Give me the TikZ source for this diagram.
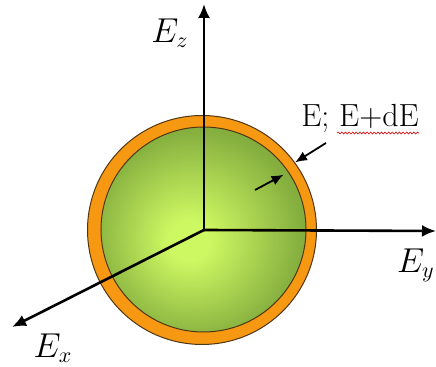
\documentclass[tikz,border=0pt]{standalone}
\usepackage{amsmath}
\usepackage{tikz}
\usetikzlibrary{positioning, arrows.meta, decorations.pathmorphing}
\definecolor{shellorange}{RGB}{247,152,18}
\definecolor{corelight}{RGB}{206,248,98}
\definecolor{coremid}{RGB}{132,174,62}
\definecolor{coredark}{RGB}{96,132,46}
\definecolor{rimbrown}{RGB}{80,55,20}
\pgfdeclareradialshading{coreglow}{\pgfpoint{-4bp}{-3bp}}{color(0bp)=(corelight); color(5bp)=(corelight); color(26bp)=(coremid); color(50bp)=(coredark)}

\begin{document}
\begin{tikzpicture}[x=0.5pt, y=-0.5pt,
    axis/.style={line width=1.3pt, -{Latex[length=7pt, width=6pt]}},
    pointer/.style={line width=0.9pt, -{Latex[length=6pt, width=5pt]}},
    lbl/.style={font=\fontsize{16}{18}\selectfont, inner sep=0pt},
    wavy/.style={red!85!black, line width=0.3pt, decorate,
        decoration={snake, amplitude=0.5pt, segment length=1.8pt}}]
    \useasboundingbox (0,0) rectangle (436,367);
    % energy shell and sphere
    \node[circle, draw=rimbrown, line width=0.5pt, fill=shellorange,
        minimum size=114.5pt, inner sep=0pt] (shell) at (202,230) {};
    \node[circle, draw=rimbrown, line width=0.5pt, shade, shading=coreglow,
        minimum size=102.5pt, inner sep=0pt] (core) at (203.5,229.5) {};
    % axes
    \coordinate (o) at (204,230);
    \coordinate (zend) at (204,4);
    \coordinate (yend) at (436,231);
    \coordinate (xend) at (12,327);
    \draw[axis] (o) -- (zend);
    \draw[axis] (o) -- (yend);
    \draw[axis] (o) -- (xend);
    \node[lbl] (ez) at (170,33) {$E_z$};
    \node[lbl, anchor=east] (ey) at (435,265) {$E_y$};
    \node[lbl] (ex) at (53,348) {$E_x$};
    % label and pointers
    \node[lbl, anchor=base west] (energy) at (301,127) {E; E+dE};
    \draw[wavy] ([xshift=-41pt, yshift=-3pt]energy.base east)
        -- ([yshift=-3pt]energy.base east);
    \coordinate (outtail) at (326,143);
    \coordinate (intail) at (255,190);
    \draw[pointer] (outtail) -- (shell.36);
    \draw[pointer, shorten >=3pt] (intail) -- (core.34);
\end{tikzpicture}
\end{document}
